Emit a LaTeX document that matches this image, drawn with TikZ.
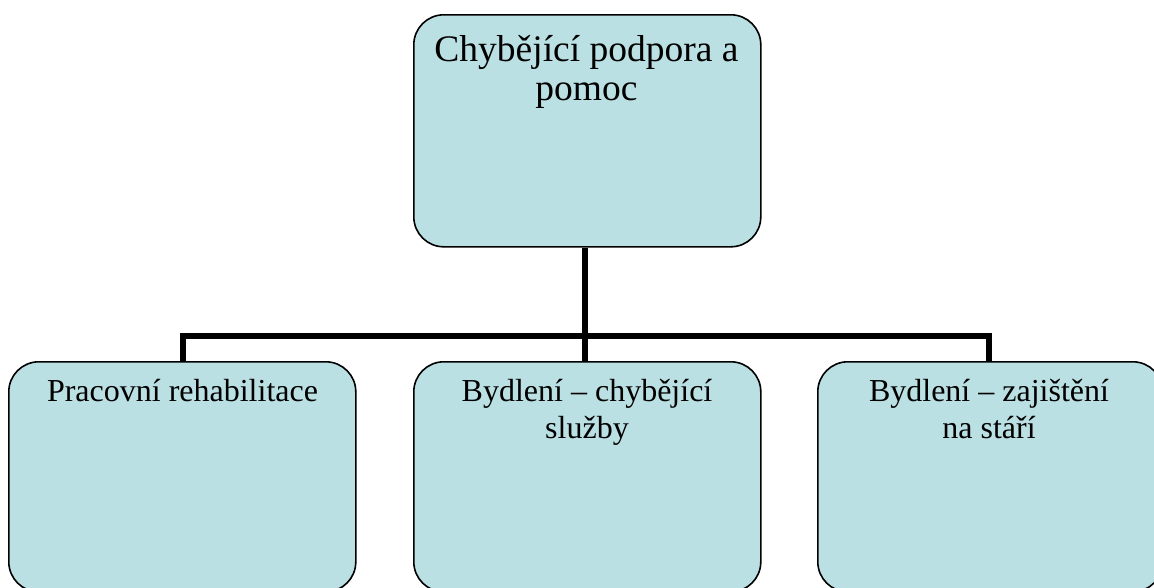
\documentclass[tikz,border=0pt]{standalone}
\usepackage{fontspec}
\setmainfont{Liberation Serif}
\definecolor{boxfill}{RGB}{187,224,227}
\tikzset{
  orgbox/.style={draw=black, line width=1.6pt, fill=boxfill, rounded corners=30pt,
    rectangle, inner sep=0pt, anchor=north west},
  toplabel/.style={anchor=base, align=center, inner sep=0pt,
    font=\fontsize{37.5pt}{39pt}\selectfont},
  sublabel/.style={anchor=base, align=center, inner sep=0pt,
    font=\fontsize{32pt}{36.5pt}\selectfont},
  link/.style={line width=5.5pt, draw=black}
}
\begin{document}
\begin{tikzpicture}[x=1pt,y=-1pt]
  \useasboundingbox (0,0) rectangle (1154,587);
  \begin{scope}
    \clip (0,0) rectangle (1154,587);
    % boxes
    \node[orgbox, minimum width=347pt, minimum height=232pt] (top) at (413,14) {};
    \node[orgbox, minimum width=347pt, minimum height=230pt] (left) at (8,361) {};
    \node[orgbox, minimum width=347pt, minimum height=230pt] (mid) at (413,361) {};
    \node[orgbox, minimum width=345pt, minimum height=230pt] (right) at (817,361) {};
    % connectors
    \coordinate (hub) at (585,336);
    \coordinate (hl) at (183,336);
    \coordinate (hr) at (989,336);
    \draw[link] (top.south -| hub) -- (hub);
    \draw[link, line cap=rect] (hl) -- (hr);
    \draw[link] (hl) -- (hl |- left.north);
    \draw[link] (hub) -- (hub |- mid.north);
    \draw[link] (hr) -- (hr |- right.north);
    % labels (base anchor sits on the last line)
    \node[toplabel] (ttop) at (586.5,100) {Chybějící podpora a\\pomoc};
    \node[sublabel] (tleft) at (182.5,401.7) {Pracovní rehabilitace};
    \node[sublabel] (tmid) at (587,438) {Bydlení – chybějící\\služby};
    \node[sublabel] (tright) at (989,438) {Bydlení – zajištění\\na stáří};
  \end{scope}
\end{tikzpicture}
\end{document}
